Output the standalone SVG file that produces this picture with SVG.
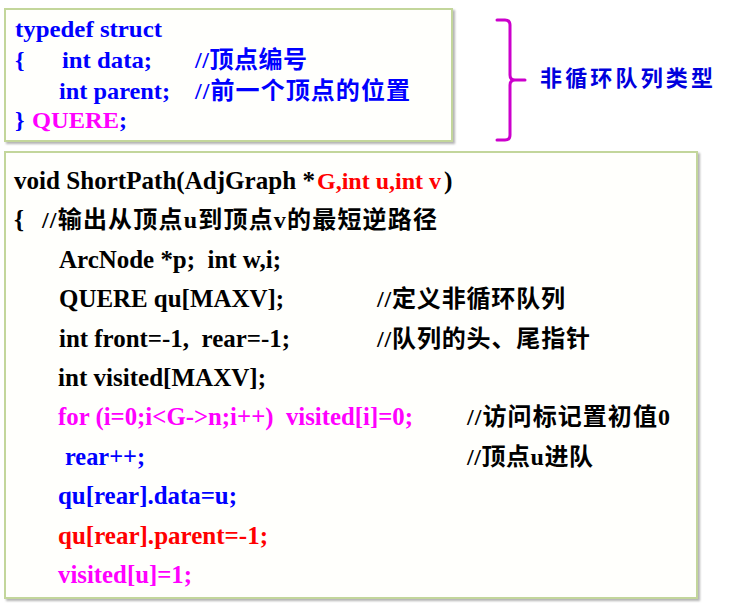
<svg xmlns="http://www.w3.org/2000/svg" width="732" height="608" viewBox="0 0 732 608">
<defs>
<filter id="sh" x="-5%" y="-5%" width="110%" height="110%">
<feDropShadow dx="2" dy="2" stdDeviation="1" flood-color="#808080" flood-opacity="0.6"/>
</filter>
</defs>
<style>
.box{fill:#FFFFFC;stroke:#C3D69B;stroke-width:2;filter:url(#sh)}
.c{font-family:"Liberation Serif","Noto Sans CJK SC",serif;font-weight:bold;white-space:pre}
.s1{font-size:24px}
.s2{font-size:25.5px}
.cm{font-size:24px}
.bl{fill:#0000FF}
.bk{fill:#000000}
.rd{fill:#FF0000}
.mg{fill:#FF00FF}
.br{fill:none;stroke:#CC00CC;stroke-width:3;stroke-linecap:round;stroke-linejoin:round}
</style>
<rect width="732" height="608" fill="#FFFFFF"/>
<g id="struct-box">
<rect class="box" x="5" y="9" width="447" height="132"/>
<text class="c s1 bl" x="15" y="37" textLength="147" lengthAdjust="spacingAndGlyphs">typedef struct</text>
<text class="c s1 bl" x="15" y="68">{</text>
<text class="c s1 bl" x="62" y="68" textLength="90" lengthAdjust="spacingAndGlyphs">int data;</text>
<text class="c cm bl" x="195" y="68" textLength="112" lengthAdjust="spacing">//顶点编号</text>
<text class="c s1 bl" x="59" y="99" textLength="111" lengthAdjust="spacingAndGlyphs">int parent;</text>
<text class="c cm bl" x="195" y="99" textLength="215" lengthAdjust="spacing">//前一个顶点的位置</text>
<text class="c s1 bl" x="15" y="128">}</text>
<text class="c s1 mg" x="32" y="128" textLength="87" lengthAdjust="spacingAndGlyphs">QUERE</text>
<text class="c s1 bl" x="119" y="128">;</text>
</g>
<g id="connectors">
<path class="br" d="M497,20 L505,20 Q510,20 510,25 L510,75 Q510,80 515,80 L525,80 M515,80 Q510,80 510,85 L510,135 Q510,140 505,140 L497,140"/>
</g>
<g id="type-label">
<text class="c" x="540" y="86" font-size="22" fill="#0000DD" textLength="173" lengthAdjust="spacing">非循环队列类型</text>
</g>
<g id="function-box">
<rect class="box" x="5" y="152" width="692" height="446"/>
<text class="c s2 bk" x="14" y="189" textLength="301" lengthAdjust="spacingAndGlyphs">void ShortPath(AdjGraph *</text>
<text class="c rd" x="317" y="189" font-size="24">G,int u,int v</text>
<text class="c s2 bk" x="444" y="189">)</text>
<text class="c s2 bk" x="14" y="228">{</text>
<text class="c cm bk" x="42" y="228" textLength="395" lengthAdjust="spacing">//输出从顶点u到顶点v的最短逆路径</text>
<text class="c s2 bk" x="59" y="268" textLength="222" lengthAdjust="spacingAndGlyphs">ArcNode *p;  int w,i;</text>
<text class="c s2 bk" x="59" y="307" textLength="225" lengthAdjust="spacingAndGlyphs">QUERE qu[MAXV];</text>
<text class="c cm bk" x="377" y="307" textLength="188" lengthAdjust="spacing">//定义非循环队列</text>
<text class="c s2 bk" x="59" y="347" textLength="231" lengthAdjust="spacingAndGlyphs">int front=-1,  rear=-1;</text>
<text class="c cm bk" x="377" y="347" textLength="213" lengthAdjust="spacing">//队列的头、尾指针</text>
<text class="c s2 bk" x="58" y="386" textLength="208" lengthAdjust="spacingAndGlyphs">int visited[MAXV];</text>
<text class="c s2 mg" x="58" y="425" textLength="355" lengthAdjust="spacingAndGlyphs">for (i=0;i&lt;G-&gt;n;i++)  visited[i]=0;</text>
<text class="c cm bk" x="467" y="425" textLength="203" lengthAdjust="spacing">//访问标记置初值0</text>
<text class="c s2 bl" x="65" y="465" textLength="80" lengthAdjust="spacingAndGlyphs">rear++;</text>
<text class="c cm bk" x="467" y="465" textLength="126" lengthAdjust="spacing">//顶点u进队</text>
<text class="c s2 bl" x="58" y="504" textLength="179" lengthAdjust="spacingAndGlyphs">qu[rear].data=u;</text>
<text class="c s2 rd" x="58" y="544" textLength="210" lengthAdjust="spacingAndGlyphs">qu[rear].parent=-1;</text>
<text class="c s2 mg" x="58" y="583" textLength="134" lengthAdjust="spacingAndGlyphs">visited[u]=1;</text>
</g>
</svg>
